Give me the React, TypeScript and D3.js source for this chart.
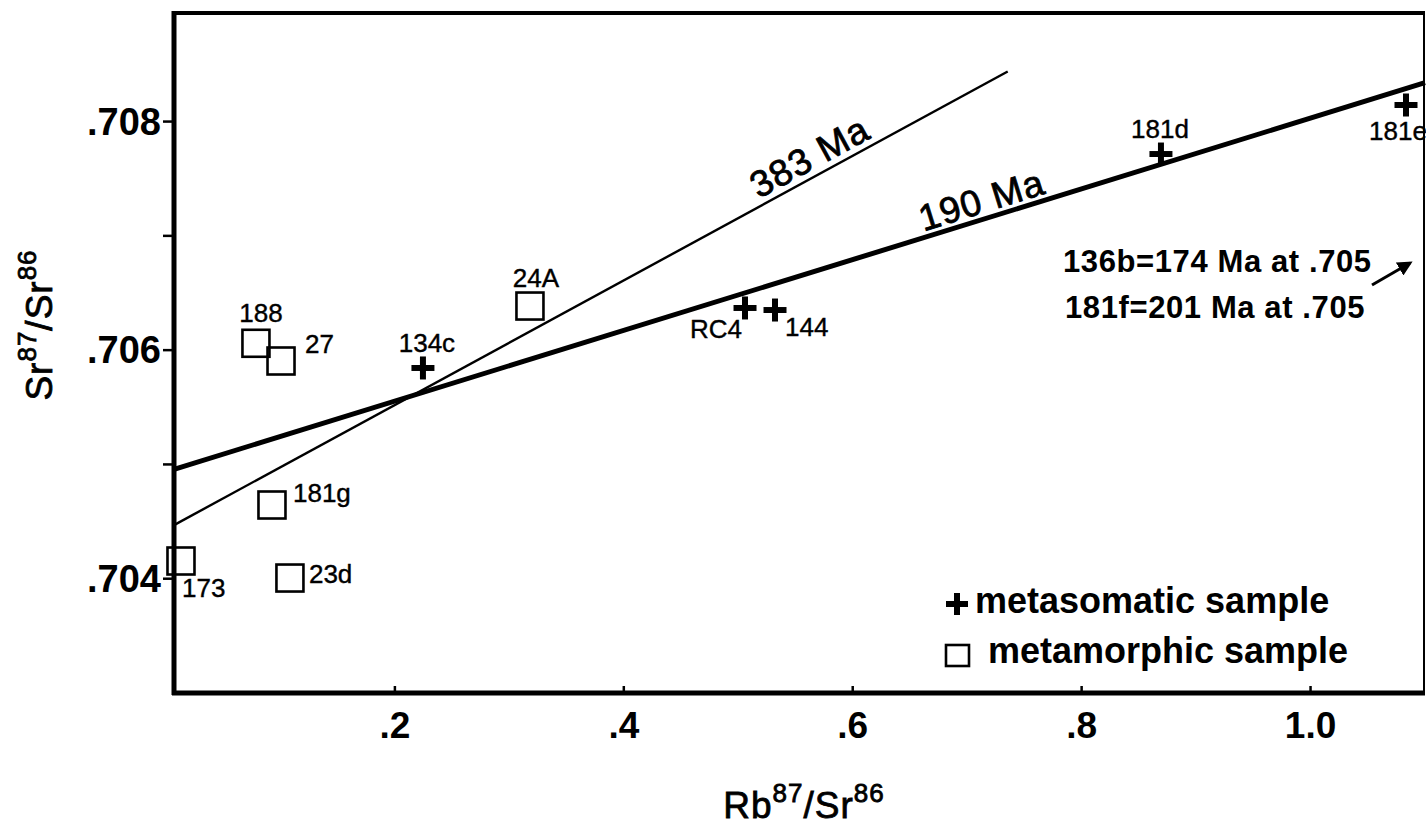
import React from "react";
import * as d3 from "d3";

// ---- data ----
const metamorphicLabels = ["188", "27", "24A", "181g", "23d", "173"];
const metamorphicRb = [0.0786, 0.1005, 0.318, 0.0926, 0.1083, 0.0131];
const metamorphicSr = [0.70606, 0.705905, 0.706386, 0.704645, 0.704006, 0.704155];

const metasomaticLabels = ["134c", "RC4", "144", "181d", "181e"];
const metasomaticRb = [0.2245, 0.5059, 0.5321, 0.8693, 1.0834];
const metasomaticSr = [0.705844, 0.706369, 0.706351, 0.707716, 0.708145];

const isochronLabels = ["190 Ma", "383 Ma"];
const isochronX = [[0.007, 1.1], [0.007, 0.7354]];
const isochronY = [[0.704957, 0.70834], [0.704469, 0.708438]];

const xTicks = [0.2, 0.4, 0.6, 0.8, 1.0];
const xTickLabels = [".2", ".4", ".6", ".8", "1.0"];
const yTicks = [0.704, 0.705, 0.706, 0.707, 0.708];
const yLabelled = [0.704, 0.706, 0.708];
const yLabelledText = [".704", ".706", ".708"];

const noteLines = ["136b=174 Ma at .705", "181f=201 Ma at .705"];
const legendLabels = ["metasomatic sample", "metamorphic sample"];

// ---- layout (pixel offsets for labels) ----
const metamorphicLabelOffsets: [number, number, string][] = [
  [5, -21, "middle"], [24, -8, "start"], [6, -19, "middle"],
  [21, -3, "start"], [19, 5, "start"], [1, 36, "start"],
];
const metasomaticLabelOffsets: [number, number, string][] = [
  [4, -16, "middle"], [-3, 30, "end"], [10, 26, "start"],
  [-1, -16, "middle"], [-8, 35, "middle"],
];
const isochronLabelAt = [0.7173, 0.5705];
const isochronLabelDy = [-6, -7];
const isochronWidth = [5, 2.4];

const FONT = "'Liberation Sans', Arial, Helvetica, sans-serif";

export default function App() {
  const W = 1426, H = 828;
  const x = d3.scaleLinear().domain([0.007, 1.1]).range([174, 1425]);
  const y = d3.scaleLinear().domain([0.703, 0.70895]).range([693, 13]);
  const line = d3.line<[number, number]>().x(d => x(d[0])).y(d => y(d[1]));

  const x0 = x(0.007), x1 = x(1.1), y0 = y(0.703), y1 = y(0.70895);

  const cross = (cx: number, cy: number, s: number, w: number, key: string) => (
    <g key={key} stroke="#000" strokeWidth={w}>
      <line x1={cx - s / 2} x2={cx + s / 2} y1={cy} y2={cy} />
      <line x1={cx} x2={cx} y1={cy - s / 2} y2={cy + s / 2} />
    </g>
  );

  const medium = { stroke: "#000", strokeWidth: 0.8 } as any;
  const light = { stroke: "#000", strokeWidth: 0.4 } as any;

  return (
    <svg width={W} height={H} viewBox={`0 0 ${W} ${H}`}
      style={{ position: "absolute", left: 0, top: 0, background: "#fff" }}
      fontFamily={FONT}>
      <rect x={0} y={0} width={W} height={H} fill="#fff" />
      {/* frame */}
      <line x1={x0} x2={x0} y1={y1 - 2} y2={y0 + 2} stroke="#000" strokeWidth={5} />
      <line x1={x0 - 2} x2={x1} y1={y0} y2={y0} stroke="#000" strokeWidth={5} />
      <line x1={x0 - 2} x2={x1} y1={y1} y2={y1} stroke="#000" strokeWidth={4} />
      <line x1={x1 - 1} x2={x1 - 1} y1={y1} y2={y0} stroke="#000" strokeWidth={2} />

      {/* y ticks */}
      {yTicks.map((t, i) => (
        <line key={"yt" + i} x1={x0 - 11} x2={x0} y1={y(t)} y2={y(t)} stroke="#000" strokeWidth={2.5} />
      ))}
      {yLabelled.map((t, i) => (
        <text key={"yl" + i} x={161} y={y(t) + 13} textAnchor="end" fontSize={38} fontWeight="bold">
          {yLabelledText[i]}
        </text>
      ))}
      {/* x ticks */}
      {xTicks.map((t, i) => (
        <g key={"xt" + i}>
          <line x1={x(t)} x2={x(t)} y1={y0} y2={y0 - 7} stroke="#000" strokeWidth={2.5} />
          <text x={x(t)} y={738} textAnchor="middle" fontSize={37} fontWeight="bold">{xTickLabels[i]}</text>
        </g>
      ))}

      {/* axis titles */}
      <text x={804} y={818} textAnchor="middle" fontSize={37} letterSpacing={1} {...medium}>
        Rb<tspan dy={-16} fontSize={26}>87</tspan><tspan dy={16}>/Sr</tspan><tspan dy={-16} fontSize={26}>86</tspan>
      </text>
      <text transform={`translate(52,325) rotate(-90)`} textAnchor="middle" fontSize={37} letterSpacing={1} {...medium}>
        Sr<tspan dy={-16} fontSize={26}>87</tspan><tspan dy={16}>/Sr</tspan><tspan dy={-16} fontSize={26}>86</tspan>
      </text>

      {/* isochrons */}
      {isochronLabels.map((lab, i) => {
        const pts: [number, number][] = [[isochronX[i][0], isochronY[i][0]], [isochronX[i][1], isochronY[i][1]]];
        const ang = Math.atan2(y(pts[1][1]) - y(pts[0][1]), x(pts[1][0]) - x(pts[0][0])) * 180 / Math.PI;
        const t = (isochronLabelAt[i] - pts[0][0]) / (pts[1][0] - pts[0][0]);
        const ly = pts[0][1] + t * (pts[1][1] - pts[0][1]);
        return (
          <g key={"iso" + i}>
            <path d={line(pts) || ""} stroke="#000" strokeWidth={isochronWidth[i]} fill="none" />
            <text transform={`translate(${x(isochronLabelAt[i])},${y(ly)}) rotate(${ang})`}
              y={isochronLabelDy[i]} textAnchor="middle" fontSize={37} letterSpacing={1} {...medium}>{lab}</text>
          </g>
        );
      })}

      {/* metamorphic squares */}
      {metamorphicLabels.map((lab, i) => {
        const cx = x(metamorphicRb[i]), cy = y(metamorphicSr[i]);
        const [dx, dy, anc] = metamorphicLabelOffsets[i];
        return (
          <g key={"sq" + i}>
            <rect x={cx - 13.5} y={cy - 13.5} width={27} height={27} fill="none" stroke="#000" strokeWidth={2.6} />
            <text x={cx + dx} y={cy + dy} textAnchor={anc as any} fontSize={26} {...light}>{lab}</text>
          </g>
        );
      })}

      {/* metasomatic crosses */}
      {metasomaticLabels.map((lab, i) => {
        const cx = x(metasomaticRb[i]), cy = y(metasomaticSr[i]);
        const [dx, dy, anc] = metasomaticLabelOffsets[i];
        return (
          <g key={"cr" + i}>
            {cross(cx, cy, 23, 6, "c" + i)}
            <text x={cx + dx} y={cy + dy} textAnchor={anc as any} fontSize={26} {...light}>{lab}</text>
          </g>
        );
      })}

      {/* notes */}
      <text x={1063} y={272} fontSize={31} fontWeight="bold" letterSpacing={0.6}>{noteLines[0]}</text>
      <text x={1065} y={318} fontSize={31} fontWeight="bold" letterSpacing={0.6}>{noteLines[1]}</text>
      <defs>
        <marker id="arrowHead" viewBox="0 0 10 10" refX={8} refY={5} markerWidth={5} markerHeight={5} orient="auto">
          <path d="M0,0 L10,5 L0,10 z" fill="#000" />
        </marker>
      </defs>
      <line x1={1372} y1={285} x2={1410} y2={263} stroke="#000" strokeWidth={3} markerEnd="url(#arrowHead)" />

      {/* legend */}
      {cross(957, 604, 22, 6, "leg")}
      <text x={975} y={613} fontSize={36} fontWeight="bold">{legendLabels[0]}</text>
      <rect x={946} y={645} width={23} height={21} fill="none" stroke="#000" strokeWidth={2.6} />
      <text x={988} y={663} fontSize={36} fontWeight="bold">{legendLabels[1]}</text>
    </svg>
  );
}
